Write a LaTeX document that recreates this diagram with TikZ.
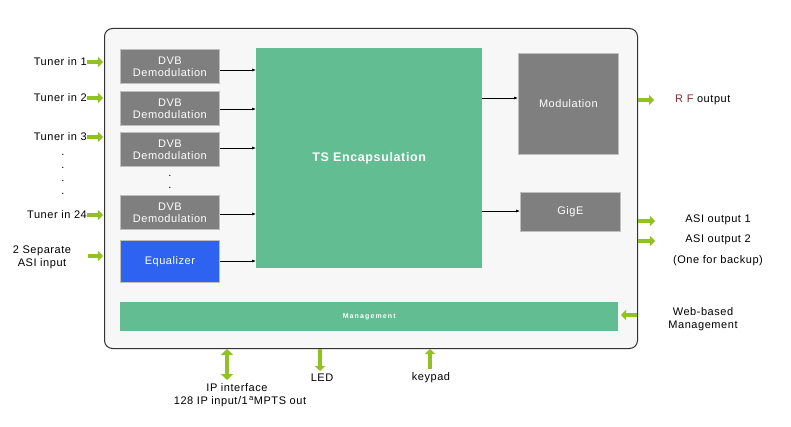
\documentclass[tikz,border=0pt]{standalone}
\usepackage{fontspec}
\setmainfont{Liberation Sans}[LetterSpace=5]
\newfontfamily\wideface{Liberation Sans}[LetterSpace=16]
\usetikzlibrary{arrows.meta}
\definecolor{tsgreen}{HTML}{62BD92}
\definecolor{boxgrey}{HTML}{7F7F7F}
\definecolor{eqblue}{HTML}{2E62F0}
\definecolor{arrgreen}{HTML}{90C320}
\definecolor{rfred}{HTML}{8B2A2A}
\tikzset{
  greybox/.style={draw=black!25, line width=0.8pt, fill=boxgrey, text=white, font=\fontsize{11}{12}\selectfont, align=center, inner sep=0pt},
  greenbox/.style={fill=tsgreen, draw=none, text=white, inner sep=0pt},
  lbl/.style={font=\fontsize{11}{13}\selectfont, inner sep=0pt, align=center},
  blk/.style={-{Latex[length=4pt,width=3pt]}, line width=0.6pt},
  garr/.style={-{Triangle[length=5pt,width=10pt]}, line width=3.2pt, draw=arrgreen},
  garrb/.style={{Triangle[length=6pt,width=12pt]}-{Triangle[length=6pt,width=12pt]}, line width=4pt, draw=arrgreen},
}
\begin{document}
\begin{tikzpicture}[x=1pt,y=-1pt]
\useasboundingbox (0,0) rectangle (791,427);
% outer frame
\node[draw=black!80, line width=1pt, fill=black!3, rounded corners=8pt, minimum width=533pt, minimum height=320pt, anchor=north west, inner sep=0pt] (frame) at (104,28) {};
% DVB boxes
\node[greybox, minimum width=99pt, minimum height=34pt, anchor=north west] (d1) at (120,49) {DVB\\Demodulation};
\node[greybox, minimum width=99pt, minimum height=34pt, anchor=north west] (d2) at (120,91) {DVB\\Demodulation};
\node[greybox, minimum width=99pt, minimum height=34pt, anchor=north west] (d3) at (120,132) {DVB\\Demodulation};
\node[greybox, minimum width=99pt, minimum height=34pt, anchor=north west] (d4) at (120,195) {DVB\\Demodulation};
\node[lbl] (vd1) at (170,176) {.};
\node[lbl] (vd2) at (170,188) {.};
\node[draw=black!25, line width=0.8pt, fill=eqblue, text=white, font=\fontsize{11}{12}\selectfont, minimum width=99pt, minimum height=42pt, anchor=north west, inner sep=0pt] (eq) at (120,240) {Equalizer};
% TS encapsulation
\node[greenbox, minimum width=226pt, minimum height=220pt, anchor=north west, font=\bfseries\fontsize{12.5}{14}\selectfont] (ts) at (256,48) {TS Encapsulation};
% Modulation, GigE
\node[greybox, minimum width=100pt, minimum height=101pt, anchor=north west] (mod) at (518,53) {Modulation};
\node[greybox, minimum width=100pt, minimum height=39pt, anchor=north west] (gige) at (520,192) {GigE};
% Management
\node[greenbox, minimum width=498pt, minimum height=29pt, anchor=north west, font=\wideface\bfseries\fontsize{7}{8}\selectfont] (mgmt) at (120,302) {Management};
% internal arrows
\draw[blk] (d1.east |- 0,70) -- (ts.west |- 0,70);
\draw[blk] (d2.east |- 0,109) -- (ts.west |- 0,109);
\draw[blk] (d3.east |- 0,148) -- (ts.west |- 0,148);
\draw[blk] (d4.east |- 0,214) -- (ts.west |- 0,214);
\draw[blk] (eq.east |- 0,261) -- (ts.west |- 0,261);
\draw[blk] (ts.east |- 0,98) -- (mod.west |- 0,98);
\draw[blk] (ts.east |- 0,211) -- (gige.west |- 0,211);
% left inputs
\node[lbl, anchor=east] (t1) at (87,62) {Tuner in 1};
\node[lbl, anchor=east] (t2) at (87,98) {Tuner in 2};
\node[lbl, anchor=east] (t3) at (87,137) {Tuner in 3};
\node[lbl, anchor=east] (t24) at (87,215) {Tuner in 24};
\node[lbl] (ld1) at (63,155) {.};
\node[lbl] (ld2) at (63,168) {.};
\node[lbl] (ld3) at (63,181) {.};
\node[lbl] (ld4) at (63,194) {.};
\node[lbl, align=center] (asiin) at (42,257) {2 Separate\\ASI input};
\coordinate (f1) at (103,62);
\coordinate (f2) at (103,98);
\coordinate (f3) at (103,137);
\coordinate (f24) at (103,215);
\coordinate (fasi) at (103,256);
\draw[garr] (t1.east) -- (f1);
\draw[garr] (t2.east) -- (f2);
\draw[garr] (t3.east) -- (f3);
\draw[garr] (t24.east) -- (f24);
\draw[garr] (88,256) -- (fasi);
% right outputs
\coordinate (r1) at (638,100);
\coordinate (r2) at (638,221);
\coordinate (r3) at (638,241);
\node[lbl, anchor=west] (rf) at (675,100) {\textcolor{rfred}{R F} output};
\node[lbl] (ao1) at (718,220) {ASI output 1};
\node[lbl] (ao2) at (718,240) {ASI output 2};
\node[lbl] (bk) at (718,261) {(One for backup)};
\draw[garr] (r1) -- (654,100);
\draw[garr] (r2) -- (655,221);
\draw[garr] (r3) -- (655,241);
\node[lbl, align=center] (web) at (703,319) {Web-based\\Management};
\coordinate (wend) at (621,315);
\draw[garr] (637,315) -- (wend);
% bottom
\node[lbl] (ip1) at (237,388) {IP interface};
\node[lbl] (ip2) at (240,402) {128 IP input/1\textsuperscript{\,a}MPTS out};
\node[lbl] (led) at (322,378) {LED};
\node[lbl] (key) at (431,378) {keypad};
\draw[garrb] (227,349) -- (227,380);
\draw[garr] (320,349) -- (320,371);
\draw[garr] (430,369) -- (430,349);
\end{tikzpicture}
\end{document}
